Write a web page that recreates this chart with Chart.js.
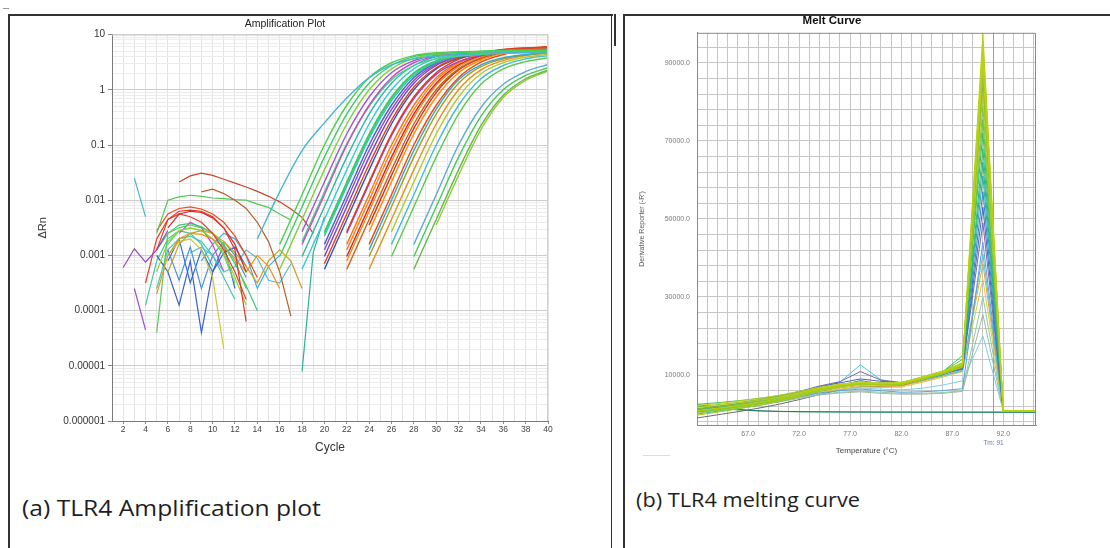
<!DOCTYPE html>
<html>
<head>
<meta charset="utf-8">
<title>TLR4 amplification plot and melting curve</title>
<script src="https://cdn.jsdelivr.net/npm/chart.js@4.4.1/dist/chart.umd.min.js"></script>
<style>
  html, body { margin: 0; background: #fff; }
  body { position: relative; width: 1110px; height: 548px; overflow: hidden; font-family: "Liberation Sans", Arial, sans-serif; }
  .rule { position: absolute; background: #333; }
  .wrap { position: absolute; }
  .caption { position: absolute; font-family: "Open Sans", Lato, sans-serif; color: #1e1e1e; line-height: 1; white-space: nowrap; transform-origin: left center; }
</style>
</head>
<body>
<div class="rule" style="left:3px;top:8px;width:6px;height:1px;background:#999"></div>
<div class="rule" style="left:8px;top:14px;width:605px;height:1.5px"></div>
<div class="rule" style="left:8px;top:14px;width:1.5px;height:534px"></div>
<div class="rule" style="left:610.5px;top:14px;width:1.5px;height:534px"></div>
<div class="rule" style="left:614px;top:14px;width:1.5px;height:32px"></div>
<div class="rule" style="left:623px;top:14px;width:487px;height:1.5px"></div>
<div class="rule" style="left:623px;top:14px;width:1.5px;height:534px"></div>
<div class="rule" style="left:643px;top:455px;width:27px;height:1px;background:#ddd"></div>

<div class="wrap" style="left:22px;top:16px;width:534px;height:445px"><canvas id="amp"></canvas></div>
<div class="wrap" style="left:628px;top:12px;width:438px;height:450px"><canvas id="melt"></canvas></div>

<div class="caption" style="left:22px;top:496px;font-size:22px;transform:scaleX(1.12)">(a) TLR4 Amplification plot</div>
<div class="caption" style="left:636px;top:489px;font-size:20.5px;transform:scaleX(1.06)">(b) TLR4 melting curve</div>

<script>
// ---------- amplification plot ----------
// values are read off the log axis, stored as log10(ΔRn)
const cycleLabels = [2, 4, 6, 8, 10, 12, 14, 16, 18, 20, 22, 24, 26, 28, 30, 32, 34, 36, 38, 40]
const dRnTicks = [0.000001, 0.00001, 0.0001, 0.001, 0.01, 0.1, 1, 10]
const dRnLabels = ['0.000001', '0.00001', '0.0001', '0.001', '0.01', '0.1', '1', '10']

// amplified wells, one value every 2 cycles from the start cycle up to 40
const ampStart = [14, 16, 16, 16, 18, 18, 18, 18, 18, 20, 20, 20, 20, 20, 20, 20, 20,
  22, 22, 22, 22, 22, 22, 22, 24, 24, 24, 24, 24, 24, 26, 26, 26, 28, 28, 28, 30]
const ampLog10 = [
  [-2.7, -1.85, -1.1, -0.6, -0.15, 0.22, 0.45, 0.56, 0.61, 0.64, 0.66, 0.67, 0.68, 0.69],
  [-2.8, -1.9, -1.0, -0.28, 0.22, 0.49, 0.62, 0.67, 0.69, 0.70, 0.705, 0.71, 0.71],
  [-3.02, -2.12, -1.22, -0.44, 0.12, 0.44, 0.60, 0.655, 0.68, 0.69, 0.70, 0.705, 0.705],
  [-3.25, -2.35, -1.45, -0.62, 0.0, 0.38, 0.57, 0.64, 0.67, 0.685, 0.69, 0.695, 0.70],
  [-2.57, -1.67, -0.8, -0.13, 0.31, 0.53, 0.625, 0.665, 0.68, 0.69, 0.695, 0.70],
  [-2.8, -1.9, -1.0, -0.28, 0.22, 0.49, 0.61, 0.66, 0.68, 0.69, 0.70, 0.70],
  [-2.75, -1.85, -0.98, -0.3, 0.18, 0.44, 0.56, 0.61, 0.64, 0.66, 0.67, 0.68],
  [-3.02, -2.12, -1.22, -0.44, 0.12, 0.44, 0.60, 0.66, 0.695, 0.715, 0.725, 0.73],
  [-3.25, -2.35, -1.45, -0.62, 0.0, 0.38, 0.57, 0.65, 0.69, 0.71, 0.72, 0.73],
  [-2.57, -1.67, -0.8, -0.13, 0.31, 0.53, 0.635, 0.68, 0.70, 0.715, 0.725],
  [-2.6, -1.7, -0.83, -0.16, 0.29, 0.52, 0.63, 0.68, 0.70, 0.715, 0.725],
  [-2.65, -1.75, -0.88, -0.2, 0.26, 0.5, 0.61, 0.66, 0.69, 0.7, 0.71],
  [-2.8, -1.9, -1.0, -0.28, 0.22, 0.49, 0.62, 0.67, 0.70, 0.72, 0.73],
  [-2.9, -2.0, -1.1, -0.36, 0.17, 0.46, 0.6, 0.66, 0.69, 0.71, 0.72],
  [-3.02, -2.12, -1.22, -0.44, 0.12, 0.44, 0.60, 0.66, 0.695, 0.715, 0.725],
  [-3.15, -2.25, -1.35, -0.55, 0.05, 0.4, 0.58, 0.67, 0.72, 0.75, 0.77],
  [-3.25, -2.35, -1.45, -0.62, 0.0, 0.38, 0.57, 0.65, 0.69, 0.71, 0.72],
  [-2.57, -1.67, -0.8, -0.13, 0.31, 0.55, 0.67, 0.73, 0.76, 0.78],
  [-2.6, -1.7, -0.83, -0.16, 0.28, 0.51, 0.62, 0.67, 0.7, 0.72],
  [-2.8, -1.9, -1.0, -0.28, 0.22, 0.50, 0.65, 0.72, 0.755, 0.775],
  [-2.9, -2.0, -1.1, -0.36, 0.18, 0.48, 0.64, 0.71, 0.75, 0.77],
  [-3.02, -2.12, -1.22, -0.44, 0.12, 0.45, 0.62, 0.70, 0.745, 0.77],
  [-3.1, -2.2, -1.3, -0.5, 0.08, 0.42, 0.60, 0.69, 0.74, 0.765],
  [-3.25, -2.35, -1.45, -0.62, 0.0, 0.38, 0.58, 0.68, 0.73, 0.76],
  [-2.45, -1.55, -0.7, -0.05, 0.36, 0.57, 0.68, 0.74, 0.77],
  [-2.57, -1.67, -0.8, -0.13, 0.31, 0.54, 0.66, 0.73, 0.765],
  [-2.8, -1.9, -1.0, -0.28, 0.22, 0.50, 0.64, 0.71, 0.755],
  [-2.9, -2.0, -1.1, -0.35, 0.18, 0.45, 0.58, 0.64, 0.68],
  [-3.02, -2.12, -1.22, -0.44, 0.12, 0.42, 0.56, 0.63, 0.67],
  [-3.25, -2.35, -1.45, -0.62, 0.0, 0.36, 0.53, 0.62, 0.67],
  [-2.57, -1.67, -0.8, -0.13, 0.29, 0.49, 0.59, 0.64],
  [-2.8, -1.9, -1.0, -0.28, 0.2, 0.44, 0.56, 0.62],
  [-3.02, -2.12, -1.22, -0.44, 0.10, 0.38, 0.51, 0.58],
  [-2.8, -1.9, -1.0, -0.32, 0.1, 0.33, 0.46],
  [-3.02, -2.12, -1.22, -0.48, 0.0, 0.26, 0.40],
  [-3.25, -2.35, -1.45, -0.65, -0.1, 0.2, 0.36],
  [-2.45, -1.55, -0.72, -0.14, 0.17, 0.34]
]
const ampColors = ['#45b8d0', '#4fcf4f', '#3ccc6e', '#7fd13b', '#9b59c9', '#c24fc2', '#3fd68f', '#2fb5a5',
  '#3cc8d8', '#38c878', '#44cc44', '#30c0c0', '#4a63c8', '#8a4fc5', '#7a45b8', '#dd4422', '#3355bb',
  '#e03a22', '#9944cc', '#f07a10', '#ff7a22', '#cc2a1e', '#ee8a1a', '#c8641e', '#cc3322', '#ff8c00',
  '#e84a14', '#33aacc', '#b09a22', '#e0921a', '#b5c832', '#45b9dc', '#5fc84a', '#5fa8dc', '#48c858',
  '#62b948', '#94cc36']

// baseline noise before amplification, one value per cycle from the start cycle
const noiseStart = [2, 3, 3, 7, 9, 5, 5, 5, 6, 4, 5, 6, 5, 5, 5, 6, 6, 5, 6, 8, 5, 18, 6, 7, 9, 4]
const noiseLog10 = [
  [-3.22, -2.88, -3.12, -2.9, -2.55],
  [-3.6, -4.35],
  [-1.6, -2.3],
  [-1.67, -1.56, -1.51, -1.55, -1.62, -1.69, -1.76, -1.84, -1.93, -2.03, -2.16, -2.31, -2.6],
  [-1.85, -1.8, -1.88, -2.0, -2.15, -2.4, -2.75, -3.3, -4.1],
  [-2.6, -2.0, -1.94, -1.91, -1.93, -1.96, -1.97, -1.99, -2.0, -2.07, -2.13, -2.25, -2.36],
  [-2.9, -2.35, -2.2, -2.18, -2.2, -2.3, -2.5, -2.9, -4.2],
  [-2.55, -2.25, -2.15, -2.12, -2.16, -2.25, -2.4, -2.65, -3.0, -3.4],
  [-2.5, -2.25, -2.2, -2.22, -2.32, -2.5, -2.8, -3.3],
  [-3.5, -2.7, -2.35, -2.25, -2.3, -2.4, -2.6, -2.9, -3.3, -3.8],
  [-3.7, -3.0, -2.7, -2.6, -2.62, -2.7, -2.85, -3.05, -3.3, -3.0, -3.2, -3.6],
  [-3.3, -2.8, -2.6, -2.55, -2.6, -2.75, -2.95, -3.2, -3.5, -3.1, -2.9, -3.1, -3.6],
  [-4.4, -2.6, -2.5, -2.45, -2.5, -2.6, -2.8, -3.1, -3.6],
  [-3.3, -2.75, -2.55, -2.5, -2.55, -2.7, -2.95, -3.4, -3.9],
  [-2.9, -2.6, -2.45, -2.42, -2.48, -2.6, -2.82, -3.15, -3.55, -4.0],
  [-2.8, -2.55, -2.5, -2.55, -2.7, -3.0, -3.5],
  [-3.0, -2.75, -2.7, -2.9, -3.4, -4.7],
  [-3.0, -3.3, -3.9, -3.1, -4.4, -3.3, -2.95, -2.85, -3.2],
  [-2.9, -3.45, -2.85, -3.6, -3.0, -2.75, -3.0, -3.4],
  [-2.95, -2.85, -3.0, -3.3, -3.2, -2.9, -3.05, -3.45, -3.5, -3.15],
  [-3.6, -2.9, -2.7, -2.65, -2.75, -3.0, -3.4, -3.8],
  [-5.1, -2.95, -2.3],
  [-3.1, -2.7, -3.5, -2.9, -3.3, -2.8, -3.6],
  [-2.6, -2.4, -2.5, -2.8, -3.3],
  [-3.1, -2.8, -2.6, -2.7, -3.0, -3.6, -3.2, -3.0],
  [-3.9, -3.1, -2.7, -2.55, -2.6, -2.8, -3.2]
]
const noiseColors = ['#8a4cc8', '#9a4fd0', '#4ab8d0', '#c8462a', '#b8602a', '#52c852', '#e8352a', '#f04a1e',
  '#d62a2a', '#e0402f', '#e59422', '#c8a02a', '#5cc85c', '#8dd43a', '#3cc878', '#66d06a', '#c8c83a',
  '#3a5fcd', '#4a90d8', '#5bbcd0', '#40c8b8', '#2fb09a', '#2f6fd0', '#cc44cc', '#40b0e0', '#44c4a0']

// ---------- melt curve ----------
const meltTemps = [62, 64, 66, 68, 70, 72, 74, 76, 78, 80, 82, 84, 86, 88, 90, 92, 94, 95.2]
const meltDeriv = [
  [900, 1500, 2200, 3000, 3900, 5100, 6400, 7400, 8000, 7800, 7900, 9200, 10700, 12600, 97500, 800, 800, 800],
  [2200, 2700, 3300, 4000, 4800, 5800, 6900, 7700, 8200, 7900, 8000, 9400, 10900, 12900, 95500, 790, 790, 790],
  [800, 1400, 2000, 2800, 3700, 4900, 6200, 7200, 7800, 7600, 7700, 9000, 10500, 12300, 94000, 780, 780, 780],
  [1600, 2200, 2800, 3500, 4300, 5400, 6600, 7600, 8100, 7900, 8000, 9400, 10900, 12800, 91000, 820, 800, 800],
  [-300, 500, 1300, 2200, 3200, 4500, 6000, 7100, 7800, 7600, 7800, 9300, 10800, 13200, 90000, 800, 800, 800],
  [700, 1300, 1900, 2700, 3600, 4800, 6100, 7100, 7700, 7500, 7600, 8900, 10300, 12100, 88500, 760, 760, 760],
  [1900, 2400, 3000, 3700, 4500, 5500, 6700, 7600, 8200, 8000, 8100, 9500, 11000, 13000, 85500, 800, 790, 790],
  [200, 900, 1600, 2400, 3300, 4500, 5900, 6900, 7600, 7400, 7500, 8800, 10200, 12000, 82500, 750, 750, 750],
  [1300, 1900, 2500, 3200, 4000, 5100, 6300, 7300, 7900, 7700, 7800, 9100, 10600, 12500, 79000, 790, 780, 780],
  [500, 1100, 1800, 2600, 3600, 4900, 6300, 7400, 8000, 7800, 7900, 9300, 10800, 14000, 75500, 800, 790, 790],
  [2500, 2900, 3400, 4000, 4700, 5600, 6600, 7400, 7900, 7700, 7800, 9200, 10700, 15000, 72000, 780, 780, 780],
  [900, 1500, 2100, 2900, 3800, 5000, 6300, 7300, 7900, 7700, 7800, 9100, 10500, 12400, 68000, 790, 780, 780],
  [1100, 1700, 2300, 3100, 4000, 5200, 6500, 7500, 8100, 7900, 8000, 9300, 10800, 12700, 64500, 800, 800, 800],
  [0, 700, 1400, 2200, 3200, 4500, 5900, 7000, 7700, 7500, 7700, 9000, 10400, 12200, 61000, 770, 770, 770],
  [1000, 1600, 2200, 3000, 3900, 5100, 6400, 7300, 8600, 7700, 7600, 8800, 10100, 11700, 57000, 800, 800, 800],
  [1300, 2000, 2700, 3500, 4500, 5700, 7000, 8000, 9000, 8400, 8000, 9100, 10300, 11500, 53000, 800, 800, 800],
  [1300, 2000, 2700, 3600, 4600, 5800, 7200, 8300, 10900, 8700, 8100, 9200, 10300, 11600, 49000, 800, 800, 800],
  [600, 1100, 1700, 2500, 3300, 4400, 5400, 6000, 6400, 6000, 5600, 5700, 6000, 6500, 44000, 780, 780, 780],
  [1000, 1700, 2400, 3300, 4200, 5400, 6800, 8200, 12600, 8800, 7800, 8700, 9800, 11000, 41000, 790, 790, 790],
  [800, 1300, 1900, 2600, 3500, 4600, 5800, 6700, 7300, 7100, 7200, 8400, 9700, 11300, 38500, 780, 780, 780],
  [700, 1200, 1800, 2500, 3300, 4300, 5500, 6400, 7000, 6800, 6900, 8100, 9400, 10900, 34500, 770, 770, 770],
  [600, 1000, 1600, 2400, 3200, 4200, 5100, 5600, 5900, 5600, 5300, 5300, 5500, 6000, 30000, 760, 760, 760],
  [500, 900, 1500, 2300, 3100, 4000, 4900, 5400, 5700, 5300, 5100, 5100, 5300, 5800, 25500, 760, 760, 760],
  [800, 1200, 1800, 2600, 3400, 4500, 5600, 6300, 6700, 6400, 6200, 6600, 7400, 8500, 20000, 770, 770, 770],
  [-1000, -200, 600, 1500, 2500, 3700, 5000, 6200, 7000, 7100, 7300, 8600, 10000, 11900, 86000, 760, 760, 760],
  [2400, 1700, 1200, 850, 700, 620, 580, 550, 530, 520, 510, 500, 500, 490, 490, 480, 480, 480],
  [2000, 1500, 1050, 800, 660, 600, 560, 540, 520, 510, 500, 490, 490, 480, 480, 480, 480, 480]
]
const meltColors = ['#b9d30c', '#bfd020', '#a8ca12', '#c6d41c', '#9ed028', '#9cc81e', '#8ec42a', '#b2cc30',
  '#7cc63a', '#5cc04a', '#3cbc5c', '#2cb874', '#22b08e', '#2aa8b4', '#3580d0', '#4a62c2', '#7a6aa6',
  '#5aa2da', '#48c6d2', '#e6a634', '#d4cc44', '#8ecaa8', '#9fb8a4', '#7cd0e4', '#6c6c6c', '#1f7a72', '#2fb04e']
const meltTempLabels = [67, 72, 77, 82, 87, 92]
const meltDerivLabels = [10000, 30000, 50000, 70000, 90000]
const meltTm = 91

// grid positions: one line per cycle / per degree / per 4000 units
const cycleGrid = Array.from({ length: 40 }, (_, i) => i + 1)
const tempGrid = Array.from({ length: 33 }, (_, i) => 63 + i)
const derivGrid = Array.from({ length: 25 }, (_, i) => -2000 + 4000 * i)

Chart.defaults.font.family = '"Liberation Sans", Arial, sans-serif'

const frame = {
  id: 'frame',
  afterDraw(chart, args, opts) {
    const { ctx, chartArea: a } = chart
    ctx.save()
    ctx.strokeStyle = opts.color
    ctx.lineWidth = 1
    ctx.beginPath()
    ctx.moveTo(a.left, a.top + 0.5)
    ctx.lineTo(a.right - 0.5, a.top + 0.5)
    ctx.lineTo(a.right - 0.5, a.bottom)
    ctx.stroke()
    ctx.restore()
  }
}

const tmMarker = {
  id: 'tmMarker',
  beforeDatasetsDraw(chart) {
    const { ctx, chartArea: a, scales: { x } } = chart
    const px = Math.round(x.getPixelForValue(meltTm)) + 0.5
    ctx.save()
    ctx.strokeStyle = '#8f9ac8'
    ctx.lineWidth = 1
    ctx.beginPath()
    ctx.moveTo(px, a.top)
    ctx.lineTo(px, a.bottom)
    ctx.stroke()
    ctx.fillStyle = '#6b7bb5'
    ctx.font = '6.5px "Liberation Sans", Arial, sans-serif'
    ctx.textAlign = 'center'
    ctx.fillText('Tm: ' + meltTm, px, a.bottom + 20)
    ctx.restore()
  }
}

const ampSets = ampLog10.map((vals, i) => ({
  data: vals.map((v, k) => ({ x: ampStart[i] + 2 * k, y: 10 ** v })),
  borderColor: ampColors[i],
  borderWidth: 1.4,
  cubicInterpolationMode: 'monotone'
}))
const noiseSets = noiseLog10.map((vals, i) => ({
  data: vals.map((v, k) => ({ x: noiseStart[i] + k, y: 10 ** v })),
  borderColor: noiseColors[i],
  borderWidth: 1.2,
  tension: 0
}))

new Chart(document.getElementById('amp'), {
  type: 'line',
  data: { datasets: ampSets.concat(noiseSets) },
  plugins: [frame],
  options: {
    responsive: true,
    maintainAspectRatio: false,
    animation: false,
    elements: { point: { radius: 0 } },
    layout: { padding: { left: 0, right: 8, top: 0, bottom: 0 } },
    plugins: {
      legend: { display: false },
      tooltip: { enabled: false },
      frame: { color: '#cfcfcf' },
      title: {
        display: true,
        text: 'Amplification Plot',
        color: '#222',
        font: { size: 10.5, weight: 'normal' },
        padding: { top: 2, bottom: 4 }
      }
    },
    scales: {
      x: {
        type: 'linear',
        min: 1,
        max: 40,
        afterBuildTicks: s => { s.ticks = cycleGrid.map(v => ({ value: v })) },
        afterFit: s => { s.height = 40 },
        ticks: {
          autoSkip: false,
          maxRotation: 0,
          padding: 1,
          color: '#444',
          font: { size: 8.5 },
          callback: v => cycleLabels.includes(v) ? String(v) : ''
        },
        grid: {
          color: '#e3e3e3',
          tickLength: 3,
          tickColor: c => c.tick && cycleLabels.includes(c.tick.value) ? '#888' : 'rgba(0,0,0,0)'
        },
        border: { color: '#7a7a7a' },
        title: { display: true, text: 'Cycle', color: '#333', font: { size: 12 }, padding: { top: 0, bottom: 6 } }
      },
      y: {
        type: 'logarithmic',
        min: 0.000001,
        max: 10,
        afterBuildTicks: s => {
          const t = []
          dRnTicks.forEach((d, i) => {
            t.push({ value: d, lab: dRnLabels[i] })
            if (d < 10) for (let m = 2; m <= 9; m++) t.push({ value: d * m, lab: '' })
          })
          s.ticks = t.sort((a, b) => a.value - b.value)
        },
        afterFit: s => { s.width = 90 },
        ticks: {
          autoSkip: false,
          padding: 3,
          color: '#333',
          font: { size: 10 },
          callback: (v, i, t) => t[i].lab || ''
        },
        grid: {
          color: c => c.tick && c.tick.lab ? '#cdcdcd' : '#ececec',
          tickLength: 4,
          tickColor: c => c.tick && c.tick.lab ? '#888' : 'rgba(0,0,0,0)'
        },
        border: { color: '#7a7a7a' },
        title: { display: true, text: 'ΔRn', color: '#333', font: { size: 11 }, padding: { top: 14, bottom: 0 } }
      }
    }
  }
})

new Chart(document.getElementById('melt'), {
  type: 'line',
  data: {
    datasets: meltDeriv.map((vals, i) => ({
      data: vals.map((v, k) => ({ x: meltTemps[k], y: v })),
      borderColor: meltColors[i],
      borderWidth: 1
    }))
  },
  plugins: [frame, tmMarker],
  options: {
    responsive: true,
    maintainAspectRatio: false,
    animation: false,
    elements: { point: { radius: 0 }, line: { tension: 0 } },
    layout: { padding: { left: 0, right: 30, top: 0, bottom: 0 } },
    plugins: {
      legend: { display: false },
      tooltip: { enabled: false },
      frame: { color: '#8a8a8a' },
      title: {
        display: true,
        text: 'Melt Curve',
        color: '#111',
        font: { size: 11.5, weight: 'bold' },
        padding: { top: 2, bottom: 5 }
      }
    },
    scales: {
      x: {
        type: 'linear',
        min: 62,
        max: 95.2,
        afterBuildTicks: s => { s.ticks = tempGrid.map(v => ({ value: v })) },
        afterFit: s => { s.height = 37 },
        ticks: {
          autoSkip: false,
          maxRotation: 0,
          padding: 5,
          color: '#7a7a7a',
          font: { size: 7 },
          callback: v => meltTempLabels.includes(v) ? v.toFixed(1) : ''
        },
        grid: { color: '#c6c6c6', drawTicks: false },
        border: { color: '#8a8a8a' },
        title: { display: true, text: 'Temperature (°C)', color: '#444', font: { size: 8 }, padding: { top: 0, bottom: 6 } }
      },
      y: {
        type: 'linear',
        min: -2800,
        max: 97700,
        afterBuildTicks: s => { s.ticks = derivGrid.map(v => ({ value: v })) },
        afterFit: s => { s.width = 69 },
        ticks: {
          autoSkip: false,
          padding: 7,
          color: '#7a7a7a',
          font: { size: 7 },
          callback: v => meltDerivLabels.includes(v) ? v.toFixed(1) : ''
        },
        grid: { color: '#c6c6c6', drawTicks: false },
        border: { color: '#8a8a8a' },
        title: { display: true, text: "Derivative Reporter (-R')", color: '#555', font: { size: 7 }, padding: { top: 10, bottom: 0 } }
      }
    }
  }
})
</script>
</body>
</html>
